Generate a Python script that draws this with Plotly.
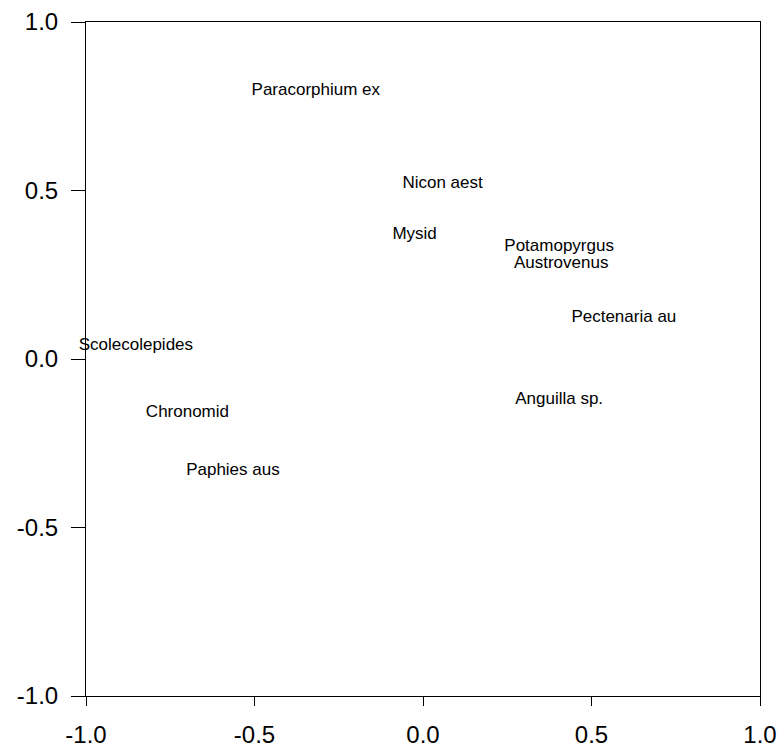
import plotly.graph_objects as go

# Species scores on the first two ordination axes
species = [
    "Paracorphium ex", "Nicon aest", "Mysid", "Potamopyrgus", "Austrovenus",
    "Pectenaria au", "Scolecolepides", "Chronomid", "Paphies aus", "Anguilla sp.",
]
axis1 = [-0.318, 0.058, -0.025, 0.404, 0.410, 0.596, -0.852, -0.699, -0.564, 0.404]
axis2 = [0.795, 0.519, 0.368, 0.334, 0.283, 0.122, 0.039, -0.160, -0.331, -0.122]

tick_vals = [-1.0, -0.5, 0.0, 0.5, 1.0]
tick_text = ["-1.0", "-0.5", "0.0", "0.5", "1.0"]

FONT = "Liberation Sans, Arial, Helvetica, sans-serif"

fig = go.Figure(
    go.Scatter(
        x=axis1,
        y=axis2,
        mode="text",
        text=species,
        textposition="middle center",
        textfont=dict(family=FONT, size=17, color="black"),
        cliponaxis=False,
        hoverinfo="text",
    )
)

axis_common = dict(
    range=[-1.0, 1.0],
    tickvals=tick_vals,
    ticktext=tick_text,
    showgrid=False,
    zeroline=False,
    showline=True,
    mirror=True,
    linecolor="black",
    linewidth=1,
    ticks="outside",
    tickcolor="black",
    tickwidth=1,
    tickfont=dict(family=FONT, size=24, color="black"),
    automargin=False,
)

fig.update_xaxes(**axis_common, ticklen=9, ticklabelstandoff=8)
fig.update_yaxes(**axis_common, ticklen=14, ticklabelstandoff=8)

fig.update_layout(
    width=779,
    height=746,
    margin=dict(l=86, r=19, t=22, b=50),
    paper_bgcolor="white",
    plot_bgcolor="white",
    showlegend=False,
)

fig.write_html("out.html")
